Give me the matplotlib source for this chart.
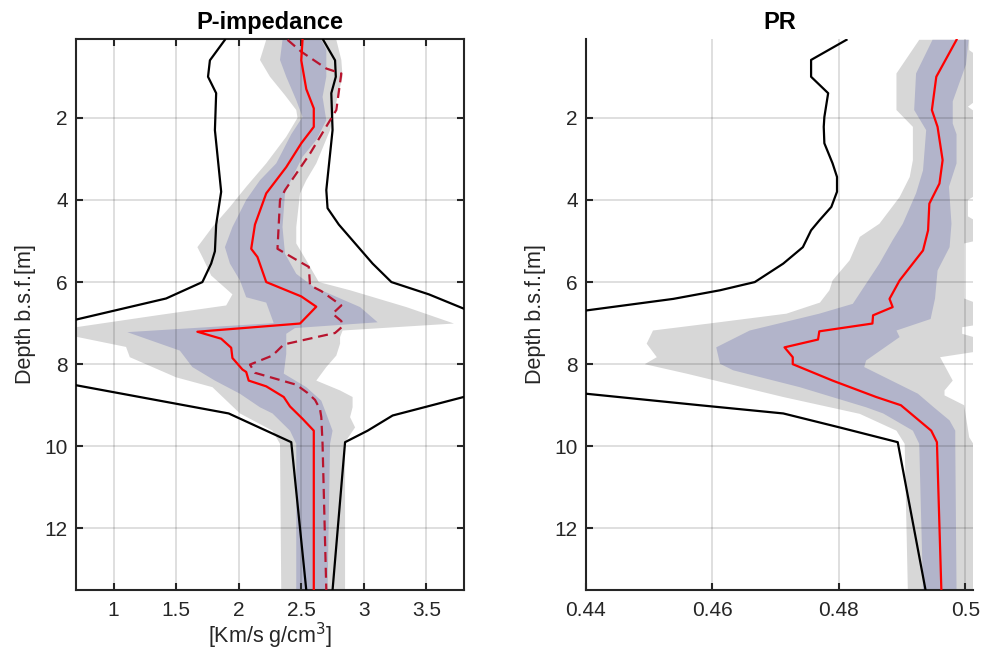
import matplotlib
matplotlib.use("Agg")
import matplotlib.pyplot as plt
import numpy as np

plt.rcParams['font.family'] = ['Liberation Sans', 'DejaVu Sans']

# ---------------- P-impedance panel ----------------
# outer (grey) uncertainty band: left and right edges
ip_outer_lo_depth = [0.1, 0.59, 1.0, 1.45, 1.81, 2.0, 2.46, 3.11, 3.68, 4.17, 4.66, 5.15, 5.39, 5.84,
                     6.3, 6.57, 6.8, 7.1, 7.2, 7.3, 7.58, 7.83, 8.32, 8.56, 9.2, 9.62, 9.94, 13.5]
ip_outer_lo = [2.22, 2.17, 2.25, 2.37, 2.46, 2.47, 2.38, 2.22, 2.06, 1.93, 1.79, 1.67, 1.71, 1.78,
               1.95, 1.90, 1.37, 0.70, 0.40, 0.65, 1.10, 1.13, 1.50, 1.79, 2.01, 2.27, 2.33, 2.34]
ip_outer_hi_depth = [0.1, 0.59, 1.0, 1.49, 2.3, 3.11, 3.52, 3.84, 4.66, 5.06, 5.47, 6.0, 6.2, 6.61,
                     7.01, 7.18, 7.34, 7.5, 7.79, 8.07, 8.4, 8.64, 8.8, 9.05, 9.29, 9.54, 9.9, 13.5]
ip_outer_hi = [2.78, 2.82, 2.83, 2.79, 2.73, 2.62, 2.54, 2.49, 2.46, 2.46, 2.54, 2.64, 2.89, 3.34,
               3.72, 2.83, 2.81, 2.81, 2.78, 2.70, 2.62, 2.81, 2.91, 2.91, 2.89, 2.93, 2.85, 2.85]

# inner (blue) uncertainty band
ip_inner_lo_depth = [0.1, 0.59, 1.0, 1.57, 1.98, 2.4, 3.11, 3.52, 4.0, 4.66, 5.15, 5.55, 5.96, 6.37,
                     6.5, 7.0, 7.22, 7.67, 8.07, 8.4, 8.72, 9.05, 9.2, 9.62, 9.94, 13.5]
ip_inner_lo = [2.35, 2.33, 2.38, 2.46, 2.51, 2.42, 2.30, 2.17, 2.06, 1.95, 1.89, 1.93, 2.01, 2.06,
               2.22, 2.28, 1.11, 1.53, 1.63, 1.81, 2.01, 2.17, 2.27, 2.41, 2.46, 2.46]
ip_inner_hi_depth = [0.1, 0.34, 1.0, 1.49, 2.06, 2.54, 2.95, 3.44, 3.84, 4.66, 5.31, 5.8, 6.12, 6.61,
                     6.98, 7.12, 7.26, 7.75, 8.23, 8.56, 8.89, 9.21, 9.62, 9.94, 13.5]
ip_inner_hi = [2.66, 2.70, 2.70, 2.67, 2.70, 2.62, 2.51, 2.43, 2.37, 2.35, 2.37, 2.46, 2.60, 2.97,
               3.11, 2.45, 2.38, 2.38, 2.36, 2.54, 2.66, 2.70, 2.75, 2.73, 2.71]

# black bounds
ip_bound_lo_depth = [0.1, 0.6, 1.0, 1.4, 2.3, 3.8, 4.6, 5.25, 5.55, 6.0, 6.4, 7.2, 8.4, 9.2, 9.9, 13.5]
ip_bound_lo = [1.89, 1.77, 1.755, 1.82, 1.81, 1.86, 1.82, 1.81, 1.78, 1.71, 1.42, 0.30, 0.50, 1.92, 2.42, 2.54]
ip_bound_hi_depth = [0.1, 0.6, 1.0, 1.4, 2.3, 3.76, 4.2, 4.6, 5.55, 6.0, 6.3, 6.65, 7.2, 8.4, 9.25, 9.62, 9.9, 13.5]
ip_bound_hi = [2.675, 2.77, 2.776, 2.74, 2.75, 2.70, 2.71, 2.80, 3.07, 3.22, 3.52, 3.80, 4.30, 4.30,
               3.23, 3.03, 2.85, 2.75]

# red lines: solid and dashed
ip_solid_depth = [0.1, 0.6, 1.3, 1.77, 2.22, 2.62, 3.2, 3.72, 3.84, 4.6, 5.19, 5.39, 6.0, 6.35, 6.6,
                  7.01, 7.21, 7.38, 7.6, 7.85, 8.13, 8.19, 8.4, 8.54, 8.8, 9.03, 9.33, 9.62, 13.5]
ip_solid = [2.51, 2.50, 2.54, 2.60, 2.60, 2.50, 2.38, 2.25, 2.22, 2.13, 2.10, 2.15, 2.22, 2.50, 2.62,
            2.49, 1.67, 1.86, 1.94, 1.95, 2.03, 2.06, 2.08, 2.22, 2.36, 2.41, 2.51, 2.60, 2.60]
ip_dashed_depth = [0.1, 0.39, 0.80, 0.92, 1.81, 2.06, 2.87, 3.76, 4.0, 5.19, 5.51, 5.63, 6.08, 6.22,
                   6.57, 6.77, 6.95, 7.08, 7.24, 7.52, 7.79, 8.01, 8.21, 8.5, 8.7, 8.87, 9.1, 9.29, 9.94, 13.5]
ip_dashed = [2.39, 2.50, 2.70, 2.82, 2.78, 2.73, 2.57, 2.37, 2.33, 2.31, 2.49, 2.56, 2.57, 2.66,
             2.82, 2.75, 2.82, 2.83, 2.77, 2.36, 2.27, 2.09, 2.13, 2.46, 2.55, 2.61, 2.65, 2.66, 2.67, 2.70]

# ---------------- PR panel ----------------
pr_outer_lo_depth = [0.1, 0.92, 1.81, 2.22, 3.03, 3.44, 3.93, 4.58, 4.9, 5.47, 5.96, 6.2, 6.5, 6.77,
                     7.0, 7.18, 7.5, 7.83, 8.0, 8.23, 8.8, 9.21, 9.62, 9.94, 13.5]
pr_outer_lo = [0.4927, 0.4891, 0.4891, 0.4917, 0.4917, 0.4912, 0.4896, 0.4864, 0.4833, 0.4817, 0.4790,
               0.4785, 0.4770, 0.4717, 0.4600, 0.4506, 0.4496, 0.4512, 0.4493, 0.4559, 0.4712, 0.4833,
               0.4891, 0.4904, 0.4909]
pr_outer_hi_depth = [0.1, 0.35, 0.45, 1.6, 1.73, 1.85, 3.9, 4.0, 4.4, 4.5, 5.0, 5.06, 6.4, 6.5, 7.05,
                     7.1, 7.26, 7.35, 7.7, 7.83, 8.4, 8.64, 8.76, 9.0, 9.78, 10.0, 13.5]
pr_outer_hi = [0.5006, 0.5006, 0.5015, 0.5015, 0.5004, 0.5015, 0.5015, 0.5004, 0.5004, 0.5015, 0.5015,
               0.4998, 0.4998, 0.5015, 0.5015, 0.4995, 0.4995, 0.5015, 0.5015, 0.4960, 0.4980, 0.4967,
               0.4967, 0.4998, 0.5006, 0.5015, 0.5015]

pr_inner_lo_depth = [0.1, 0.92, 1.81, 2.3, 3.28, 3.84, 4.58, 4.98, 5.55, 6.04, 6.53, 6.77, 7.18, 7.59,
                     7.99, 8.15, 8.56, 9.05, 9.2, 9.62, 9.94, 13.5]
pr_inner_lo = [0.4948, 0.4922, 0.4919, 0.4938, 0.4933, 0.4922, 0.4901, 0.4885, 0.4864, 0.4843, 0.4822,
               0.4769, 0.4659, 0.4606, 0.4612, 0.4633, 0.4738, 0.4843, 0.4870, 0.4917, 0.4927, 0.4933]
pr_inner_hi_depth = [0.1, 0.7, 1.0, 1.6, 2.14, 2.4, 3.11, 3.68, 4.58, 5.15, 5.72, 6.4, 6.9, 7.18, 7.34,
                     7.91, 8.07, 8.72, 9.05, 9.37, 9.62, 9.94, 13.5]
pr_inner_hi = [0.5005, 0.5001, 0.4994, 0.4980, 0.4980, 0.4986, 0.4986, 0.4974, 0.4978, 0.4975, 0.4956,
               0.4952, 0.4945, 0.4891, 0.4896, 0.4843, 0.4840, 0.4925, 0.4950, 0.4975, 0.4984, 0.4984,
               0.4986]

pr_bound_depth = [0.1, 0.59, 1.0, 1.4, 1.98, 2.22, 2.62, 3.11, 3.44, 3.8, 4.17, 4.5, 4.74, 5.15, 5.55,
                  6.0, 6.2, 6.41, 7.0, 8.4, 9.0, 9.2, 9.54, 9.9, 13.5]
pr_bound = [0.4812, 0.4756, 0.4756, 0.4783, 0.4777, 0.4776, 0.4777, 0.4790, 0.4797, 0.4797, 0.4788,
            0.4769, 0.4756, 0.4743, 0.4712, 0.4667, 0.4612, 0.4538, 0.4250, 0.4195, 0.4580, 0.4712,
            0.4801, 0.4893, 0.4937]

pr_solid_depth = [0.1, 1.0, 1.81, 2.22, 3.03, 3.6, 4.09, 4.74, 5.23, 5.96, 6.41, 6.61, 6.81, 7.01, 7.2,
                  7.4, 7.59, 7.83, 8.0, 8.4, 8.8, 9.0, 9.62, 9.9, 13.5]
pr_solid = [0.4986, 0.4954, 0.4947, 0.4956, 0.4964, 0.4959, 0.4943, 0.4941, 0.4933, 0.4896, 0.4880,
            0.4885, 0.4854, 0.4853, 0.4769, 0.4767, 0.4714, 0.4727, 0.4727, 0.4790, 0.4859, 0.4898,
            0.4946, 0.4955, 0.4962]

depth_ticks = [2, 4, 6, 8, 10, 12]
ip_ticks = [1, 1.5, 2, 2.5, 3, 3.5]
ip_ticklabels = ['1', '1.5', '2', '2.5', '3', '3.5']
pr_ticks = [0.44, 0.46, 0.48, 0.50]
pr_ticklabels = ['0.44', '0.46', '0.48', '0.5']

GREY = '#d7d7d7'
BLUE = '#b2b4ca'
AXC = '#262626'
DASH_RED = '#b8142e'
TICK_FS = 15
LABEL_FS = 15.5
TITLE_FS = 17


def band(ax, d_lo, x_lo, d_hi, x_hi, color):
    xs = np.concatenate([x_lo, x_hi[::-1]])
    ys = np.concatenate([d_lo, d_hi[::-1]])
    ax.fill(xs, ys, color=color, lw=0, zorder=1)


def style(ax, box):
    ax.set_axisbelow(False)
    ax.grid(True, color='k', alpha=0.15, lw=1.2)
    for s in ax.spines.values():
        s.set_color(AXC)
        s.set_linewidth(1.5)
    if not box:
        ax.spines['top'].set_visible(False)
        ax.spines['right'].set_visible(False)
    ax.tick_params(direction='in', length=5, width=1.5, color=AXC, labelcolor=AXC,
                   labelsize=TICK_FS, top=box, right=box)
    ax.tick_params(axis='y', pad=6)
    ax.tick_params(axis='x', pad=8)
    ax.set_ylabel('Depth b.s.f.[m]', fontsize=LABEL_FS, color=AXC, labelpad=6)
    ax.set_yticks(depth_ticks)
    ax.set_ylim(13.5, 0.08)


fig = plt.figure(figsize=(9.83, 6.52), dpi=100)
ax1 = fig.add_axes([0.0773, 0.0951, 0.3947, 0.8451])
ax2 = fig.add_axes([0.5961, 0.0951, 0.3937, 0.8451])

# P-impedance
band(ax1, ip_outer_lo_depth, ip_outer_lo, ip_outer_hi_depth, ip_outer_hi, GREY)
band(ax1, ip_inner_lo_depth, ip_inner_lo, ip_inner_hi_depth, ip_inner_hi, BLUE)
ax1.plot(ip_bound_lo, ip_bound_lo_depth, color='k', lw=1.6, zorder=3)
ax1.plot(ip_bound_hi, ip_bound_hi_depth, color='k', lw=1.6, zorder=3)
ax1.plot(ip_dashed, ip_dashed_depth, color=DASH_RED, lw=1.6, dashes=(4.5, 2.6), zorder=3)
ax1.plot(ip_solid, ip_solid_depth, color='red', lw=1.6, zorder=4)
ax1.set_xlim(0.7, 3.8)
ax1.set_xticks(ip_ticks)
ax1.set_xticklabels(ip_ticklabels)
style(ax1, box=True)
ax1.set_xlabel('[Km/s g/cm$^3$]', fontsize=LABEL_FS, color=AXC, labelpad=0.5)
ax1.set_title('P-impedance', fontsize=TITLE_FS, fontweight='bold', color='k', pad=7)

# PR
band(ax2, pr_outer_lo_depth, pr_outer_lo, pr_outer_hi_depth, pr_outer_hi, GREY)
band(ax2, pr_inner_lo_depth, pr_inner_lo, pr_inner_hi_depth, pr_inner_hi, BLUE)
ax2.plot(pr_bound, pr_bound_depth, color='k', lw=1.6, zorder=3)
ax2.plot(pr_solid, pr_solid_depth, color='red', lw=1.6, zorder=4)
ax2.set_xlim(0.44, 0.5012)
ax2.set_xticks(pr_ticks)
ax2.set_xticklabels(pr_ticklabels)
style(ax2, box=False)
ax2.set_title('PR', fontsize=TITLE_FS, fontweight='bold', color='k', pad=7)

fig.savefig('out.png', dpi=100)
